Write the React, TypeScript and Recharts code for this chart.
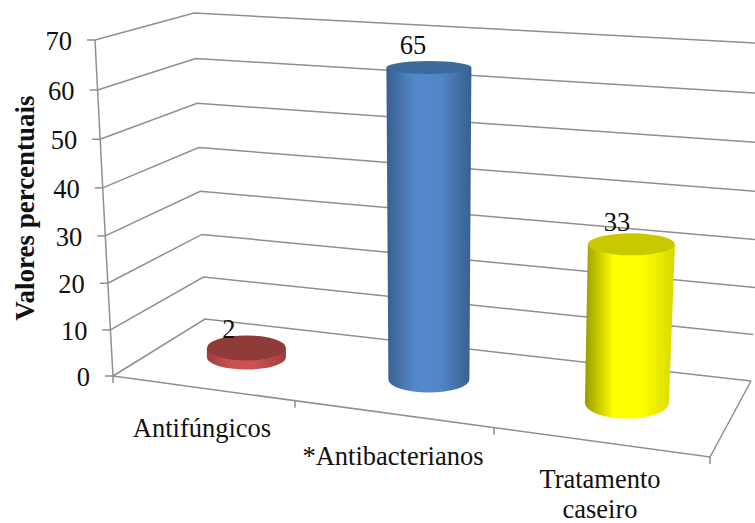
import { Bar, BarChart, CartesianGrid, LabelList, XAxis, YAxis } from 'recharts'

const CATEGORIES = ['Antifúngicos', '*Antibacterianos', 'Tratamento caseiro']
const VALUES = [2, 65, 33]
const VALUE_TICKS = [0, 10, 20, 30, 40, 50, 60, 70]

const FONT = '"Liberation Serif", "Times New Roman", serif'
const FONT_SIZE = 26.5
const GRID_COLOR = '#8f8f8f'
const PLOT_TOP = 40
const PLOT_BOTTOM = 376
const FLOOR_FRONT_RIGHT = { x: 710, y: 457 }
const FLOOR_TICKS_X = [113, 295, 494, 710]

// where each cylinder sits on the tilted floor, relative to its band centre
const CYLINDERS = [
  { fill: 'url(#redSide)', cap: '#8f3b3a', dx: 34, lean: 0, dy: -18.5, topW: 79, baseW: 79, topRy: 12.5, baseRy: 12, labelDx: 16.5, labelDy: -28 },
  { fill: 'url(#blueSide)', cap: '#3d6a9c', dx: 17.5, lean: 0, dy: 3.5, topW: 85, baseW: 81, topRy: 6.5, baseRy: 13, labelDx: 1.5, labelDy: -10.5 },
  { fill: 'url(#yellowSide)', cap: '#c9c900', dx: 21, lean: -4.5, dy: 26.7, topW: 87, baseW: 84, topRy: 11, baseRy: 16, labelDx: 6.5, labelDy: 13.8 },
]

const CATEGORY_LABELS = [
  { lines: ['Antifúngicos'], cx: 202, baseline: [436.5] },
  { lines: ['*Antibacterianos'], cx: 393, baseline: [465] },
  { lines: ['Tratamento', 'caseiro'], cx: 600, baseline: [488, 518] },
]

// the box walls lean with height and levels bunch up with distance,
// so every grid level maps to three corners
function wallCorners(plotY: number) {
  const t = (plotY - PLOT_TOP) / (PLOT_BOTTOM - PLOT_TOP)
  const bow = t * (1 - t)
  return {
    left: { x: 95 + 18 * t, y: plotY + 16 * bow },
    back: { x: 194 + 11 * t, y: 13 + 306 * t + 14 * bow },
    right: { x: 766 - 15 * t, y: 43.5 + 337.5 * t + 14 * bow },
  }
}

function WallLine(props: any) {
  const { y1 } = props
  const { left, back, right } = wallCorners(y1)
  const isFloor = Math.abs(y1 - PLOT_BOTTOM) < 0.5
  const step = (PLOT_BOTTOM - PLOT_TOP) / (VALUE_TICKS.length - 1)
  const below = wallCorners(y1 + step).left
  const line = { stroke: GRID_COLOR, strokeWidth: 1.5, fill: 'none' }
  return (
    <g key={props.key}>
      <polyline {...line} points={`${left.x},${left.y} ${back.x},${back.y} ${right.x},${right.y}`} />
      {!isFloor && <line {...line} x1={left.x} y1={left.y} x2={below.x} y2={below.y} />}
      {isFloor && (
        <polyline
          {...line}
          points={`${left.x},${left.y} ${FLOOR_FRONT_RIGHT.x},${FLOOR_FRONT_RIGHT.y} ${right.x},${right.y}`}
        />
      )}
      {isFloor &&
        FLOOR_TICKS_X.map((x) => {
          const y = left.y + ((x - left.x) * (FLOOR_FRONT_RIGHT.y - left.y)) / (FLOOR_FRONT_RIGHT.x - left.x)
          return <line key={x} {...line} x1={x} y1={y} x2={x} y2={y + 7} />
        })}
    </g>
  )
}

function ValueTick({ y, payload }: any) {
  const { left } = wallCorners(y)
  return (
    <g>
      <line x1={left.x - 8} y1={left.y} x2={left.x} y2={left.y} stroke={GRID_COLOR} strokeWidth={1.5} />
      <text x={left.x - 23} y={left.y + 10} textAnchor="end" fontFamily={FONT} fontSize={FONT_SIZE} fill="#111">
        {payload.value}
      </text>
    </g>
  )
}

function CategoryTick({ index }: any) {
  const label = CATEGORY_LABELS[index]
  return (
    <text textAnchor="middle" fontFamily={FONT} fontSize={FONT_SIZE} fill="#111">
      {label.lines.map((line, i) => (
        <tspan key={line} x={label.cx} y={label.baseline[i]}>
          {line}
        </tspan>
      ))}
    </text>
  )
}

function Cylinder({ x, y, width, height, index }: any) {
  const c = CYLINDERS[index]
  const cx = x + width / 2 + c.dx
  const topY = y + c.dy
  const baseY = y + height + c.dy
  const baseX = cx + c.lean
  const side =
    `M${cx - c.topW / 2},${topY} L${baseX - c.baseW / 2},${baseY} ` +
    `A${c.baseW / 2},${c.baseRy} 0 0 0 ${baseX + c.baseW / 2},${baseY} ` +
    `L${cx + c.topW / 2},${topY} Z`
  return (
    <g>
      <path d={side} fill={c.fill} />
      <ellipse cx={cx} cy={topY} rx={c.topW / 2} ry={c.topRy} fill={c.cap} />
    </g>
  )
}

function ValueLabel({ x, y, width, value, index }: any) {
  const c = CYLINDERS[index]
  return (
    <text x={x + width / 2 + c.labelDx} y={y + c.labelDy} textAnchor="middle" fontFamily={FONT} fontSize={FONT_SIZE} fill="#111">
      {value}
    </text>
  )
}

function sideGradient(id: string, edge: string, mid: string, rightEdge = edge) {
  return (
    <linearGradient id={id} x1="0" y1="0" x2="1" y2="0">
      <stop offset="0%" stopColor={edge} />
      <stop offset="32%" stopColor={mid} />
      <stop offset="62%" stopColor={mid} />
      <stop offset="100%" stopColor={rightEdge} />
    </linearGradient>
  )
}

const chartData = CATEGORIES.map((name, i) => ({ name, value: VALUES[i] }))

export default function App() {
  return (
    <div style={{ position: 'absolute', left: 0, top: 0, width: 755, height: 523, overflow: 'hidden' }}>
      <BarChart
        width={755}
        height={523}
        data={chartData}
        margin={{ top: PLOT_TOP, right: 45, bottom: 0, left: 0 }}
      >
        <defs>
          {sideGradient('redSide', '#9c3f3d', '#cb5250')}
          {sideGradient('blueSide', '#38608f', '#5287c9')}
          {sideGradient('yellowSide', '#9a9a00', '#ffff00', '#d8d800')}
        </defs>
        <CartesianGrid vertical={false} horizontal={WallLine} />
        <XAxis dataKey="name" height={147} axisLine={false} tickLine={false} interval={0} tick={CategoryTick} />
        <YAxis
          width={113}
          domain={[0, 70]}
          ticks={VALUE_TICKS}
          interval={0}
          axisLine={false}
          tickLine={false}
          tick={ValueTick}
          label={{
            value: 'Valores percentuais',
            angle: -90,
            position: 'insideLeft',
            dx: 19,
            dy: 0,
            style: { fontFamily: FONT, fontSize: 27, fontWeight: 'bold', fill: '#111', textAnchor: 'middle' },
          }}
        />
        <Bar dataKey="value" shape={Cylinder} isAnimationActive={false}>
          <LabelList dataKey="value" content={ValueLabel} />
        </Bar>
      </BarChart>
    </div>
  )
}
